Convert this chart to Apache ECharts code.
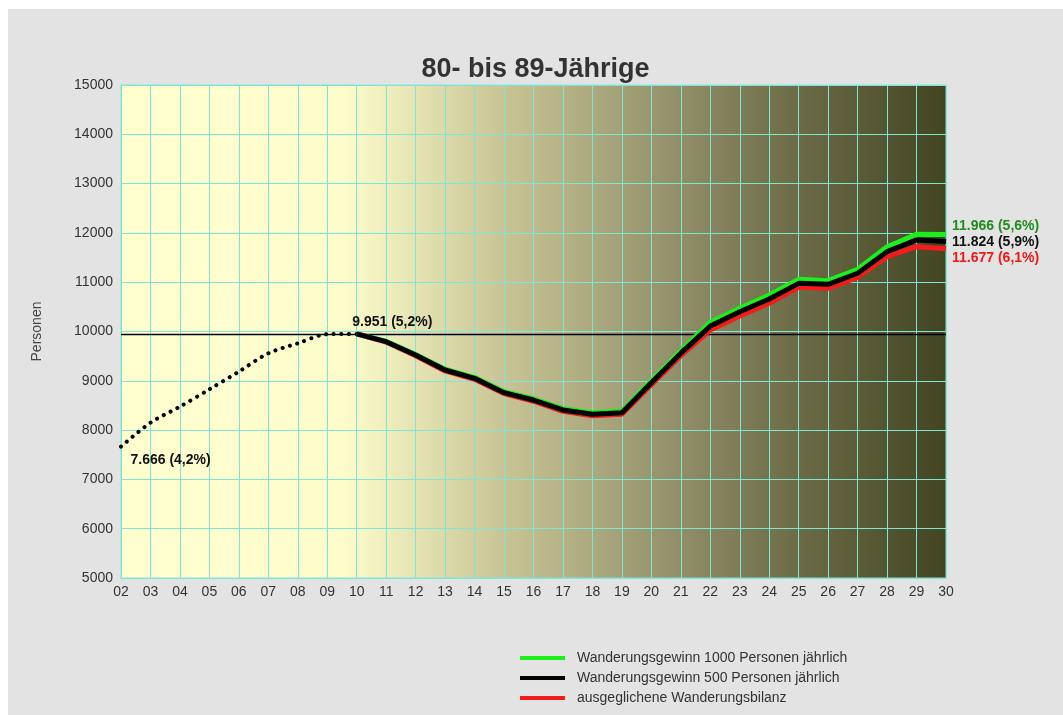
<!DOCTYPE html>
<html>
<head>
<meta charset="utf-8">
<script src="https://cdn.jsdelivr.net/npm/echarts@6/dist/echarts.min.js"></script>
<style>
html,body{margin:0;padding:0;background:#ffffff;width:1063px;height:715px;overflow:hidden;}
#chart{position:absolute;left:8px;top:9px;width:1055px;height:706px;}
</style>
</head>
<body>
<div id="chart"></div>
<script>
var years = ['02','03','04','05','06','07','08','09','10','11','12','13','14','15','16','17','18','19','20','21','22','23','24','25','26','27','28','29','30'];
// past values (2002-2010), dotted
var pastValues = [7666, 8150, 8475, 8827, 9185, 9558, 9760, 9945, 9951];
// projections 2010-2030
var gain1000 = [9951, 9800, 9535, 9235, 9070, 8780, 8635, 8435, 8350, 8385, 9000, 9610, 10185, 10470, 10740, 11058, 11031, 11262, 11720, 11972, 11966];
var gain500  = [9951, 9793, 9523, 9219, 9050, 8759, 8610, 8408, 8320, 8353, 8960, 9560, 10110, 10402, 10659, 10977, 10957, 11181, 11619, 11856, 11824];
var balanced = [9951, 9785, 9510, 9200, 9030, 8740, 8585, 8380, 8290, 8320, 8920, 9510, 10030, 10314, 10572, 10896, 10876, 11099, 11517, 11720, 11677];
var seriesNames = ['Wanderungsgewinn 1000 Personen jährlich', 'Wanderungsgewinn 500 Personen jährlich', 'ausgeglichene Wanderungsbilanz'];
var endLabels = ['11.966 (5,6%)', '11.824 (5,9%)', '11.677 (6,1%)'];
var startLabel = '7.666 (4,2%)';
var refLabel = '9.951 (5,2%)';
var refValue = 9951;
var yMin = 5000, yMax = 15000, yStep = 1000;
var titleText = '80- bis 89-Jährige';
var yName = 'Personen';

function pad(arr, before, total) {
  var out = [];
  for (var i = 0; i < total; i++) {
    var j = i - before;
    out.push(j >= 0 && j < arr.length ? arr[j] : null);
  }
  return out;
}
var n = years.length;
var pastData = pad(pastValues, 0, n);
var off = n - gain500.length;

var chart = echarts.init(document.getElementById('chart'), null, {renderer: 'canvas'});
var font = 'Liberation Sans, Arial, Helvetica, sans-serif';
var gridColor = '#7FE6D6';

var option = {
  backgroundColor: '#E3E3E3',
  animation: false,
  title: {
    text: titleText,
    left: 'center',
    top: 42,
    textStyle: {fontFamily: font, fontSize: 27, fontWeight: 'bold', color: '#333333'}
  },
  legend: {
    orient: 'vertical',
    left: 507,
    top: 634,
    icon: 'rect',
    itemWidth: 45,
    itemHeight: 4,
    itemGap: 0,
    data: seriesNames,
    textStyle: {fontFamily: font, fontSize: 14, color: '#333333', lineHeight: 20, padding: [0, 0, 0, 7]}
  },
  grid: {
    left: 113, right: 117, top: 76, bottom: 137,
    show: true,
    borderColor: gridColor,
    borderWidth: 1,
    backgroundColor: new echarts.graphic.LinearGradient(0, 0, 1, 0, [
      {offset: 0, color: '#FFFFD0'},
      {offset: 0.27, color: '#FDFDCC'},
      {offset: 0.46, color: '#C9C596'},
      {offset: 0.64, color: '#9A9870'},
      {offset: 0.82, color: '#6B6B47'},
      {offset: 1, color: '#434422'}
    ])
  },
  xAxis: {
    type: 'category',
    data: years,
    boundaryGap: false,
    axisLine: {show: true, lineStyle: {color: gridColor, width: 1}},
    axisTick: {show: false},
    axisLabel: {interval: 0, margin: 7, fontFamily: font, fontSize: 14, color: '#333333'},
    splitLine: {show: true, interval: 0, lineStyle: {color: gridColor, width: 1}}
  },
  yAxis: {
    type: 'value',
    min: yMin, max: yMax, interval: yStep,
    name: yName,
    nameLocation: 'middle',
    nameRotate: 90,
    nameGap: 77,
    nameTextStyle: {fontFamily: font, fontSize: 14, color: '#444444'},
    axisLine: {show: true, lineStyle: {color: gridColor}},
    axisTick: {show: false},
    axisLabel: {margin: 8, fontFamily: font, fontSize: 14, color: '#333333',
      formatter: function (v) { return String(v); }},
    splitLine: {show: true, lineStyle: {color: gridColor, width: 1}}
  },
  series: [
    {
      name: 'Bestand',
      type: 'line',
      data: pastData,
      smooth: 0.3,
      symbol: 'none',
      lineStyle: {color: '#000000', width: 4, type: [0.1, 7.5], cap: 'round'},
      z: 3,
      markPoint: {
        symbol: 'circle', symbolSize: 1,
        itemStyle: {color: 'rgba(0,0,0,0)'},
        label: {show: true, position: [10, 7], align: 'left', verticalAlign: 'top',
          fontFamily: font, fontSize: 14, fontWeight: 'bold', color: '#111111',
          formatter: startLabel},
        data: [{coord: [years[0], pastValues[0]]}]
      }
    },
    {
      name: seriesNames[2],
      type: 'line',
      data: pad(balanced, off, n),
      symbol: 'none',
      color: '#F21C1C',
      lineStyle: {color: '#F21C1C', width: 5},
      z: 4,
      endLabel: {show: true, formatter: endLabels[2], distance: 6, offset: [0, 9],
        fontFamily: font, fontSize: 14, fontWeight: 'bold', color: '#F01818'}
    },
    {
      name: seriesNames[0],
      type: 'line',
      data: pad(gain1000, off, n),
      symbol: 'none',
      color: '#1CF01C',
      lineStyle: {color: '#1CF01C', width: 5},
      z: 5,
      endLabel: {show: true, formatter: endLabels[0], distance: 6, offset: [0, -8],
        fontFamily: font, fontSize: 14, fontWeight: 'bold', color: '#1E8C1E'}
    },
    {
      name: seriesNames[1],
      type: 'line',
      data: pad(gain500, off, n),
      symbol: 'none',
      color: '#000000',
      lineStyle: {color: '#000000', width: 5},
      z: 6,
      endLabel: {show: true, formatter: endLabels[1], distance: 6, offset: [0, 1],
        fontFamily: font, fontSize: 14, fontWeight: 'bold', color: '#111111'},
      markLine: {
        silent: true,
        symbol: ['none', 'none'],
        label: {show: false},
        lineStyle: {color: '#000000', width: 1.3, type: 'solid'},
        data: [{yAxis: refValue}],
        z: 2
      },
      markPoint: {
        symbol: 'circle', symbolSize: 1,
        itemStyle: {color: 'rgba(0,0,0,0)'},
        label: {show: true, position: [-4, -18], align: 'left', verticalAlign: 'top',
          fontFamily: font, fontSize: 14, fontWeight: 'bold', color: '#111111',
          formatter: refLabel},
        data: [{coord: [years[8], refValue]}]
      }
    }
  ]
};
chart.setOption(option);
</script>
</body>
</html>
